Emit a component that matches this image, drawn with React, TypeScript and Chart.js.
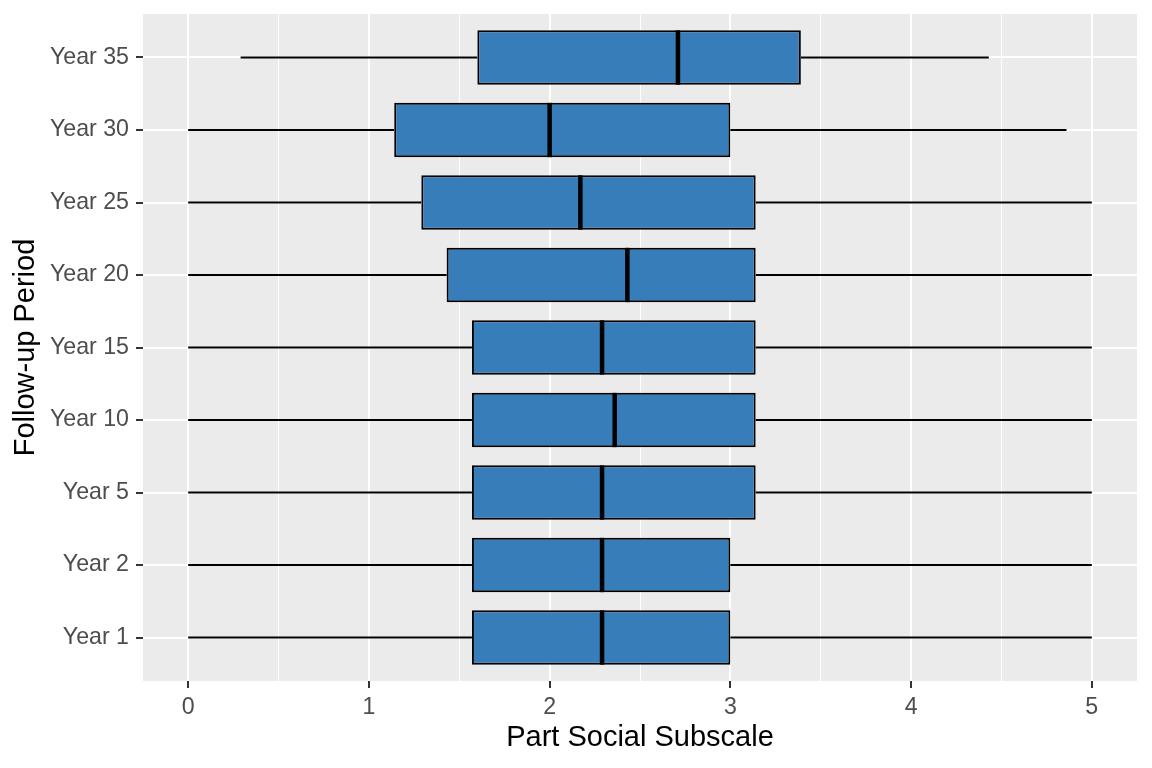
import React, { useEffect, useRef } from "react";
import { Chart, registerables } from "chart.js";

Chart.register(...registerables);

const categories = ["Year 1", "Year 2", "Year 5", "Year 10", "Year 15", "Year 20", "Year 25", "Year 30", "Year 35"];
const mins = [0, 0, 0, 0, 0, 0, 0, 0, 0.29];
const q1s = [1.57, 1.57, 1.57, 1.57, 1.57, 1.43, 1.29, 1.14, 1.6];
const medians = [2.29, 2.29, 2.29, 2.36, 2.29, 2.43, 2.17, 2.0, 2.71];
const q3s = [3.0, 3.0, 3.14, 3.14, 3.14, 3.14, 3.14, 3.0, 3.39];
const maxs = [5, 5, 5, 5, 5, 5, 5, 4.86, 4.43];
const xTicks = [0, 0.5, 1, 1.5, 2, 2.5, 3, 3.5, 4, 4.5, 5];

const FONT = "'Liberation Sans', Arial, sans-serif";

const panelBg = {
  id: "panelBg",
  beforeDraw(chart: any) {
    const { ctx, chartArea: a } = chart;
    ctx.save();
    ctx.fillStyle = "#EBEBEB";
    ctx.fillRect(a.left, a.top, a.right - a.left, a.bottom - a.top);
    ctx.restore();
  },
};

const boxExtras = {
  id: "boxExtras",
  beforeDatasetsDraw(chart: any) {
    const { ctx } = chart;
    const xs = chart.scales.x;
    const ys = chart.scales.y;
    ctx.save();
    ctx.strokeStyle = "#000000";
    ctx.lineWidth = 2;
    categories.forEach((_, i) => {
      const y = ys.getPixelForValue(i);
      ctx.beginPath();
      ctx.moveTo(xs.getPixelForValue(mins[i]), y);
      ctx.lineTo(xs.getPixelForValue(q1s[i]), y);
      ctx.moveTo(xs.getPixelForValue(q3s[i]), y);
      ctx.lineTo(xs.getPixelForValue(maxs[i]), y);
      ctx.stroke();
    });
    ctx.restore();
  },
  afterDatasetsDraw(chart: any) {
    const { ctx } = chart;
    const xs = chart.scales.x;
    const meta = chart.getDatasetMeta(0);
    ctx.save();
    ctx.strokeStyle = "#000000";
    ctx.lineWidth = 4.5;
    meta.data.forEach((bar: any, i: number) => {
      const h = bar.height;
      const x = xs.getPixelForValue(medians[i]);
      ctx.beginPath();
      ctx.moveTo(x, bar.y - h / 2);
      ctx.lineTo(x, bar.y + h / 2);
      ctx.stroke();
    });
    ctx.restore();
  },
};

const noPad = (axis: any) => {
  axis.paddingTop = 0;
  axis.paddingBottom = 0;
  axis.paddingLeft = 0;
  axis.paddingRight = 0;
};

export default function App() {
  const ref = useRef<HTMLCanvasElement>(null);
  useEffect(() => {
    if (!ref.current) return;
    const chart = new Chart(ref.current, {
      type: "bar",
      data: {
        datasets: [
          {
            data: categories.map((_, i) => ({ x: [q1s[i], q3s[i]], y: i })) as any,
            backgroundColor: "#377DB9",
            borderColor: "#000000",
            borderWidth: 2,
            borderSkipped: false,
            categoryPercentage: 1,
            barPercentage: 0.75,
          },
        ],
      },
      options: {
        indexAxis: "y",
        animation: false,
        responsive: false,
        maintainAspectRatio: false,
        layout: { padding: { left: 0, top: 14, right: 15, bottom: 0 } },
        plugins: { legend: { display: false }, tooltip: { enabled: false } },
        scales: {
          x: {
            type: "linear",
            min: -0.25,
            max: 5.25,
            offset: false,
            afterBuildTicks: (axis: any) => {
              axis.ticks = xTicks.map((v) => ({ value: v }));
            },
            afterFit: (axis: any) => {
              axis.height = 87;
              noPad(axis);
            },
            border: { display: false },
            grid: {
              offset: false,
              color: "#FFFFFF",
              lineWidth: (c: any) => (c.tick && c.tick.value % 1 === 0 ? 2 : 1),
              tickColor: (c: any) => (c.tick && c.tick.value % 1 === 0 ? "#333333" : "rgba(0,0,0,0)"),
              tickLength: 7,
              drawTicks: true,
            },
            ticks: {
              autoSkip: false,
              maxRotation: 0,
              padding: 6,
              color: "#4D4D4D",
              font: { family: FONT, size: 23.2 },
              callback: (v: any) => (Number(v) % 1 === 0 ? String(v) : ""),
            },
            title: {
              display: true,
              text: "Part Social Subscale",
              color: "#000000",
              font: { family: FONT, size: 29 },
              padding: { top: 0, bottom: 13 },
            },
          },
          y: {
            type: "linear",
            min: -0.6,
            max: 8.6,
            offset: false,
            afterBuildTicks: (axis: any) => {
              axis.ticks = categories.map((_, i) => ({ value: i }));
            },
            afterFit: (axis: any) => {
              axis.width = 143;
              noPad(axis);
            },
            border: { display: false },
            grid: {
              offset: false,
              color: "#FFFFFF",
              lineWidth: 2,
              tickColor: "#333333",
              tickLength: 7,
            },
            ticks: {
              autoSkip: false,
              padding: 7,
              color: "#4D4D4D",
              font: { family: FONT, size: 23.2 },
              callback: (v: any) => categories[Number(v)] ?? "",
            },
            title: {
              display: true,
              text: "Follow-up Period",
              color: "#000000",
              font: { family: FONT, size: 29 },
              padding: { top: 9, bottom: 0 },
            },
          },
        },
      },
      plugins: [panelBg, boxExtras],
    });
    return () => chart.destroy();
  }, []);
  return (
    <div style={{ position: "fixed", left: 0, top: 0, width: 1152, height: 768, background: "#FFFFFF" }}>
      <canvas ref={ref} width={1152} height={768} />
    </div>
  );
}
